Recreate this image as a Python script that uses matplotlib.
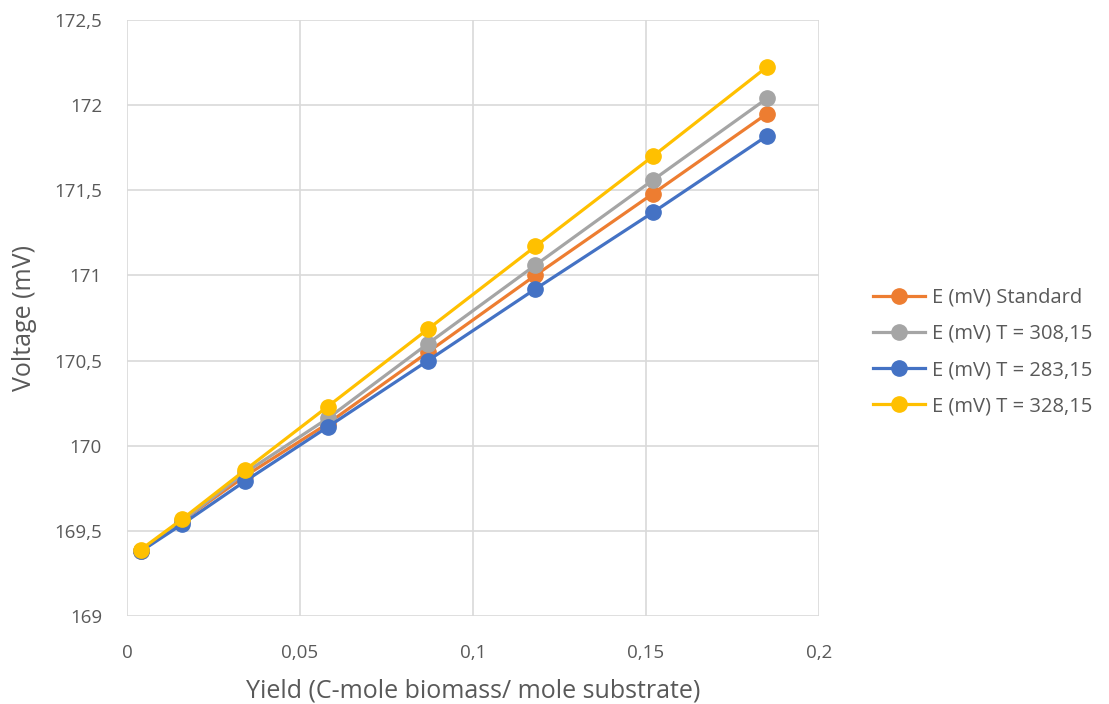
import matplotlib
matplotlib.use("Agg")
import matplotlib.pyplot as plt
from matplotlib.ticker import FuncFormatter
from matplotlib.lines import Line2D

plt.rcParams['font.family'] = ['Open Sans', 'DejaVu Sans']

yield_x = [0.004, 0.016, 0.034, 0.058, 0.087, 0.118, 0.152, 0.185]
e_standard = [169.38, 169.56, 169.82, 170.13, 170.55, 171.00, 171.48, 171.95]
e_308 = [169.38, 169.56, 169.84, 170.16, 170.60, 171.06, 171.56, 172.04]
e_283 = [169.38, 169.54, 169.79, 170.11, 170.50, 170.92, 171.37, 171.82]
e_328 = [169.39, 169.57, 169.855, 170.23, 170.685, 171.17, 171.70, 172.225]

series_labels = ["E (mV) Standard", "E (mV) T = 308,15", "E (mV) T = 283,15", "E (mV) T = 328,15"]
series_colors = ["#ED7D31", "#A5A5A5", "#4472C4", "#FFC000"]
series_values = [e_standard, e_308, e_283, e_328]

x_ticks = [0, 0.05, 0.1, 0.15, 0.2]
y_ticks = [169, 169.5, 170, 170.5, 171, 171.5, 172, 172.5]

fig = plt.figure(figsize=(11.09, 7.04), dpi=100)
ax = fig.add_axes([127/1109, 1 - 616/704, (819-127)/1109, (616-20)/704])

for vals, lab, col in zip(series_values, series_labels, series_colors):
    ax.plot(yield_x, vals, color=col, lw=2.3, marker='o', markersize=11,
            label=lab, zorder=3)

ax.set_xlim(0, 0.2)
ax.set_ylim(169, 172.5)
ax.set_xticks(x_ticks)
ax.set_yticks(y_ticks)

def fmt(v, pos):
    s = ('%g' % round(v, 4))
    return s.replace('.', ',')

ax.xaxis.set_major_formatter(FuncFormatter(fmt))
ax.yaxis.set_major_formatter(FuncFormatter(fmt))
ax.grid(True, color='#D9D9D9', lw=1.2)
ax.set_axisbelow(True)
for s in ax.spines.values():
    s.set_visible(False)
ax.tick_params(length=0, labelsize=13.5, colors='#595959')
ax.tick_params(axis='y', pad=18)
ax.tick_params(axis='x', pad=20)

ax.set_xlabel("Yield (C-mole biomass/ mole substrate)", fontsize=18, color='#595959', labelpad=12)
ax.set_ylabel("Voltage (mV)", fontsize=18, color='#595959', labelpad=12)

handles = [Line2D([0], [0], color=c, lw=2.3, marker='o', markersize=11) for c in series_colors]
leg = fig.legend(handles, series_labels, loc='center left', bbox_to_anchor=(855/1109, 1 - 352/704),
                 frameon=False, fontsize=14.5, labelspacing=0.8, handlelength=2.6,
                 handletextpad=0.3, labelcolor='#595959')

fig.savefig("out.png", dpi=100)
